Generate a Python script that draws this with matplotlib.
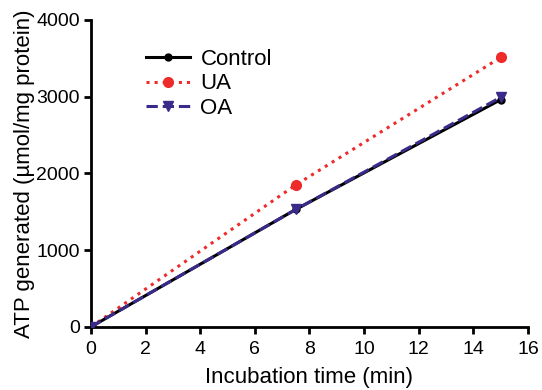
import numpy as np
import matplotlib.pyplot as plt

plt.rcParams['font.family'] = ['Liberation Sans', 'DejaVu Sans']

time = [0, 7.5, 15]
control = [0, 1530, 2960]
ua = [0, 1850, 3510]
oa = [0, 1530, 2990]

fig = plt.figure(figsize=(5.42, 3.9), dpi=100)
ax = fig.add_axes([0.168, 0.162, 0.806, 0.787])

ax.plot(time, control, color='black', lw=2.2, marker='o', ms=5, label='Control', zorder=3)
ax.plot(time, ua, color='#ee2a2a', lw=2.2, ls=':', marker='o', ms=7, label='UA', zorder=2)
ax.plot(time, oa, color='#3a2a8a', lw=2.2, ls='--', marker='v', ms=7, label='OA', zorder=4)

ax.set_xlim(0, 16)
ax.set_ylim(0, 4000)
ax.set_xticks(np.arange(0, 17, 2))
ax.set_yticks([0, 1000, 2000, 3000, 4000])
for s in ['top', 'right']:
    ax.spines[s].set_visible(False)
for s in ['left', 'bottom']:
    ax.spines[s].set_linewidth(2)
ax.tick_params(width=2, length=5, labelsize=14, pad=3)
ax.tick_params(axis='x', pad=5)
ax.set_xlabel('Incubation time (min)', fontsize=16, labelpad=7)
ax.set_ylabel('ATP generated (µmol/mg protein)', fontsize=16, labelpad=1)
ax.legend(loc='upper left', bbox_to_anchor=(0.08, 0.97), frameon=False, fontsize=16,
          handlelength=2.0, handletextpad=0.45, labelspacing=0.15)

fig.savefig('out.png', dpi=100)
